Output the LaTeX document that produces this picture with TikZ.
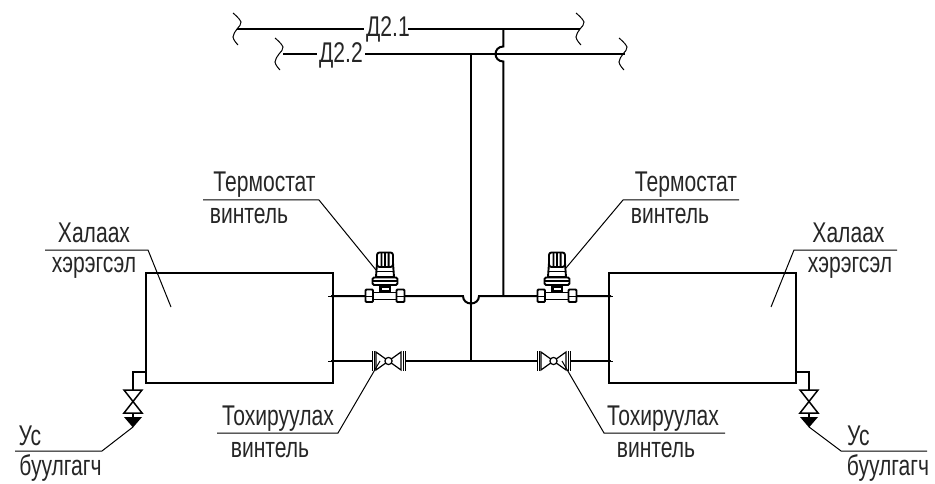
\documentclass[tikz,border=0pt]{standalone}
\usepackage{fontspec}
\setmainfont[FakeStretch=0.74]{Liberation Sans}
\newcommand{\lblsize}{\fontsize{28.5}{30}\selectfont}
\tikzset{
  pipe/.style={line width=2pt,black},
  box/.style={line width=2pt,black,fill=white},
  lead/.style={line width=1pt,black},
  wav/.style={line width=1pt,black},
  part/.style={line width=1.2pt,black,fill=white},
  lbl/.style={inner sep=0pt,outer sep=0pt,anchor=base,font=\lblsize,text=black!85},
}
\newcommand{\squigl}[2]{\draw[wav] plot[smooth,tension=0.7] coordinates {(#1-4,#2-16) (#1+4,#2-7) (#1,#2) (#1-4,#2+8) (#1+1,#2+16)};}
\newcommand{\thermo}[1]{%
 \begin{scope}[shift={(#1,296)}]
  \draw[part] (-12,-3.5) rectangle (12,3.5);
  \draw[part,line width=1.8pt,rounded corners=1pt] (-19.5,-6.5) rectangle (-12,6);
  \draw[part,line width=1.8pt,rounded corners=1pt] (11.5,-6.5) rectangle (19.5,6);
  \draw[line width=1pt] (-19.5,0) -- (-12,0) (11.5,0) -- (19.5,0);
  \fill[black] (-6,-11) rectangle (6,-3.5);
  \fill[white] (-3.5,-8.5) rectangle (3.5,-6);
  \draw[part,line width=1.9pt,rounded corners=1.5pt] (-12.5,-18.5) rectangle (12.5,-11);
  \draw[line width=1.2pt] (-12.5,-15) -- (12.5,-15);
  \draw[part,line width=1.9pt] (-9,-19) -- (-8,-33) -- (8,-33) -- (9,-19) -- cycle;
  \draw[line width=1pt] (-8.5,-25) -- (8.5,-25);
  \draw[part,line width=1.9pt,rounded corners=2.5pt] (-8,-29) -- (-8,-43.5) -- (8,-43.5) -- (8,-29) -- cycle;
  \fill[black] (-4.5,-43) rectangle (-2.6,-30) (-0.9,-43) rectangle (0.9,-30) (2.6,-43) rectangle (4.5,-30);
 \end{scope}}
\newcommand{\handv}[1]{%
 \begin{scope}[shift={(#1,361)}]
  \draw[line width=1.8pt] (-16,-10) -- (-16,10) (17,-10) -- (17,10);
  \draw[line width=1pt] (-14,-10) -- (-14,10) (14.5,-10) -- (14.5,10);
  \draw[line width=1.2pt,fill=white] (-12.5,-9) -- (0,0) -- (-12.5,9) -- cycle;
  \draw[line width=1.2pt,fill=white] (12.5,-9) -- (0,0) -- (12.5,9) -- cycle;
  \draw[line width=1.2pt,fill=white] (0,0) circle (3.6);
 \end{scope}}
\newcommand{\drainv}[1]{%
 \begin{scope}[shift={(#1,390)}]
  \draw[line width=1.5pt,fill=white] (-9,0) -- (9,0) -- (-9,23) -- (9,23) -- cycle;
  \draw[line width=1.5pt] (0,23) -- (0,27);
  \fill[black] (-9,27) -- (9,27) -- (0,37.5) -- cycle;
 \end{scope}}
\begin{document}
\begin{tikzpicture}[x=1pt,y=-1pt]
\useasboundingbox (0,0) rectangle (935,484);
% radiators
\node[draw,line width=2pt,minimum width=187pt,minimum height=110pt,inner sep=0pt] (radL) at (239.75,328) {};
\node[draw,line width=2pt,minimum width=187pt,minimum height=110pt,inner sep=0pt] (radR) at (702.5,328) {};
% mains
\node[lbl] (d21) at (388,37) {Д2.1};
\node[lbl] (d22) at (341,63) {Д2.2};
\coordinate (m1l) at (237,29); \coordinate (m1r) at (580,29);
\coordinate (m2l) at (283,54); \coordinate (m2r) at (625,54);
\draw[pipe] (m1l) -- (364,29) (408,29) -- (m1r);
\draw[pipe] (m2l) -- (317,54) (365,54) -- (m2r);
\squigl{237}{29}\squigl{580}{29}\squigl{279}{54}\squigl{623}{54}
% risers
\draw[pipe] (503.3,29) -- (503.3,46.5) .. controls (498.5,46.5) and (495.5,50) .. (495.5,54) .. controls (495.5,58) and (498.5,61.5) .. (503.3,61.5) -- (503.3,296);
\draw[pipe] (471,54) -- (471,361);
% branches
\draw[pipe] (331,296) -- (463,296) .. controls (463,300.5) and (466.5,303.5) .. (471,303.5) .. controls (475.5,303.5) and (479,300.5) .. (479,296) -- (611,296);
\draw[pipe] (331,361) -- (372,361) (406,361) -- (537,361) (571,361) -- (611,361);
\draw[lead] (328,296) -- (333,296) (328,361) -- (333,361) (609,296) -- (613,296) (609,361) -- (613,361);
% fittings
\thermo{385}
\thermo{557}
\handv{388.5}
\handv{553.5}
% drains
\draw[pipe] (146.5,372) -- (133,372) -- (133,390);
\draw[pipe] (796,372) -- (809,372) -- (809,390);
\drainv{133}
\drainv{809}
% leaders
\coordinate (lhl) at (45,250); \coordinate (lhk) at (148,250); \coordinate (lhe) at (171,307);
\coordinate (rhl) at (897,250); \coordinate (rhk) at (794,250); \coordinate (rhe) at (771,307);
\coordinate (ltl) at (203,200); \coordinate (ltk) at (319,200); \coordinate (lte) at (376,270);
\coordinate (rtl) at (739,200); \coordinate (rtk) at (623,200); \coordinate (rte) at (566,268);
\coordinate (lvl) at (217,433); \coordinate (lvk) at (338,433); \coordinate (lve) at (380,361);
\coordinate (rvl) at (725,433); \coordinate (rvk) at (604,433); \coordinate (rve) at (562,361);
\coordinate (ldl) at (15,451); \coordinate (ldk) at (102,451); \coordinate (lde) at (133,427);
\coordinate (rdl) at (927,451); \coordinate (rdk) at (841,451); \coordinate (rde) at (809,427);
\foreach \a/\b/\c in {lhl/lhk/lhe,rhl/rhk/rhe,ltl/ltk/lte,rtl/rtk/rte,lvl/lvk/lve,rvl/rvk/rve,ldl/ldk/lde,rdl/rdk/rde}
  \draw[lead] (\a) -- (\b) -- (\c);
% labels
\node[lbl] (t1a) at (264.5,192) {Термостат};
\node[lbl] (t1b) at (249,223) {винтель};
\node[lbl] (t2a) at (686,192) {Термостат};
\node[lbl] (t2b) at (670,223) {винтель};
\node[lbl] (h1a) at (94,242) {Халаах};
\node[lbl] (h1b) at (94,272) {хэрэгсэл};
\node[lbl] (h2a) at (848.5,242) {Халаах};
\node[lbl] (h2b) at (850,272) {хэрэгсэл};
\node[lbl] (v1a) at (278,425) {Тохируулах};
\node[lbl] (v1b) at (270,457) {винтель};
\node[lbl] (v2a) at (663,425) {Тохируулах};
\node[lbl] (v2b) at (656,457) {винтель};
\node[lbl] (u1a) at (30,445) {Ус};
\node[lbl] (u1b) at (60.5,475) {буулгагч};
\node[lbl] (u2a) at (858.5,445) {Ус};
\node[lbl] (u2b) at (888,475) {буулгагч};
\end{tikzpicture}
\end{document}
